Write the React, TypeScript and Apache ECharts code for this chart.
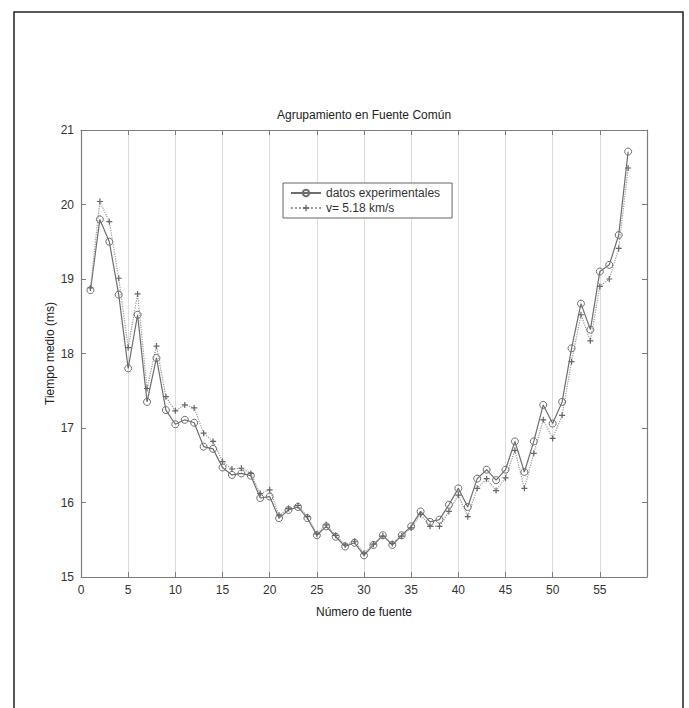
import React, { useEffect, useRef } from "react";
import * as echarts from "echarts";

// Source number (x) and mean travel time in ms for each series
const fuentes = [
  1, 2, 3, 4, 5, 6, 7, 8, 9, 10, 11, 12, 13, 14, 15, 16, 17, 18, 19, 20,
  21, 22, 23, 24, 25, 26, 27, 28, 29, 30, 31, 32, 33, 34, 35, 36, 37, 38, 39, 40,
  41, 42, 43, 44, 45, 46, 47, 48, 49, 50, 51, 52, 53, 54, 55, 56, 57, 58,
];

const datosExperimentales = [
  18.85, 19.8, 19.5, 18.79, 17.8, 18.52, 17.35, 17.94, 17.24, 17.05,
  17.11, 17.07, 16.75, 16.72, 16.47, 16.37, 16.39, 16.36, 16.06, 16.08,
  15.79, 15.9, 15.94, 15.79, 15.56, 15.68, 15.54, 15.41, 15.46, 15.29,
  15.43, 15.56, 15.43, 15.56, 15.68, 15.88, 15.74, 15.77, 15.97, 16.19,
  15.94, 16.32, 16.44, 16.3, 16.44, 16.82, 16.41, 16.82, 17.31, 17.06,
  17.35, 18.07, 18.67, 18.32, 19.1, 19.19, 19.59, 20.71,
];

const modeloVelocidad = [
  18.88, 20.04, 19.77, 19.01, 18.08, 18.8, 17.53, 18.1, 17.42, 17.23,
  17.31, 17.27, 16.93, 16.82, 16.55, 16.45, 16.46, 16.39, 16.12, 16.17,
  15.83, 15.92, 15.96, 15.81, 15.58, 15.7, 15.56, 15.43, 15.48, 15.32,
  15.44, 15.55, 15.45, 15.55, 15.66, 15.84, 15.68, 15.68, 15.88, 16.1,
  15.81, 16.19, 16.32, 16.16, 16.33, 16.7, 16.19, 16.66, 17.11, 16.86,
  17.17, 17.89, 18.52, 18.17, 18.9, 19.0, 19.41, 20.49,
];

const xTicks = [0, 5, 10, 15, 20, 25, 30, 35, 40, 45, 50, 55];
const yTicks = [15, 16, 17, 18, 19, 20, 21];

const titulo = "Agrupamiento en Fuente Común";
const etiquetaX = "Número de fuente";
const etiquetaY = "Tiempo medio (ms)";
const nombreSerie1 = "datos experimentales";
const nombreSerie2 = "v= 5.18 km/s";

const FONT = '"Liberation Sans", Arial, Helvetica, sans-serif';
const PLUS = "path://M4,0H6V4H10V6H6V10H4V6H0V4H4Z";

export default function App() {
  const ref = useRef<HTMLDivElement>(null);

  useEffect(() => {
    document.body.style.margin = "0";
    if (!ref.current) return;
    const chart = echarts.init(ref.current, null, { renderer: "svg" });

    const left = 81;
    const top = 130;
    const width = 566;
    const height = 447;
    const cx = left + width / 2;

    const axisColor = "#7c7c7c";
    const labelColor = "#333";

    const baseX = {
      type: "value" as const,
      min: xTicks[0],
      max: 60,
      interval: 5,
      axisLine: { show: true, onZero: false, lineStyle: { color: axisColor, width: 1.2 } },
      axisTick: { show: true, inside: true, length: 5, lineStyle: { color: axisColor } },
    };
    const baseY = {
      type: "value" as const,
      min: yTicks[0],
      max: yTicks[yTicks.length - 1],
      interval: 1,
      axisLine: { show: true, onZero: false, lineStyle: { color: axisColor, width: 1.2 } },
      axisTick: { show: true, inside: true, length: 5, lineStyle: { color: axisColor } },
      splitLine: { show: false },
    };

    chart.setOption({
      animation: false,
      backgroundColor: "#fff",
      grid: { left, top, width, height, containLabel: false },
      xAxis: [
        {
          ...baseX,
          position: "bottom",
          axisLabel: {
            fontFamily: FONT,
            fontSize: 12,
            color: labelColor,
            margin: 7,
            formatter: (v: number) => (xTicks.includes(v) ? String(v) : ""),
          },
          splitLine: { show: true, lineStyle: { color: "#dcdcdc", width: 1 } },
        },
        {
          ...baseX,
          position: "top",
          axisLabel: { show: false },
          splitLine: { show: false },
        },
      ],
      yAxis: [
        {
          ...baseY,
          position: "left",
          axisLabel: { fontFamily: FONT, fontSize: 12, color: labelColor, margin: 7 },
        },
        {
          ...baseY,
          position: "right",
          axisLabel: { show: false },
        },
      ],
      legend: {
        left: 283,
        top: 183,
        orient: "vertical",
        itemWidth: 30,
        itemHeight: 8,
        itemGap: 3,
        padding: [4, 12, 4, 7],
        borderColor: "#666",
        borderWidth: 1,
        backgroundColor: "#fff",
        textStyle: { fontFamily: FONT, fontSize: 12, color: labelColor },
        data: [nombreSerie1, nombreSerie2],
      },
      series: [
        {
          name: nombreSerie1,
          type: "line",
          xAxisIndex: 0,
          yAxisIndex: 0,
          data: fuentes.map((f, i) => [f, datosExperimentales[i]]),
          symbol: "circle",
          symbolSize: 7,
          showAllSymbol: true,
          lineStyle: { color: "#6e6e6e", width: 1.2, type: "solid" },
          itemStyle: { color: "transparent", borderColor: "#6e6e6e", borderWidth: 1 },
        },
        {
          name: nombreSerie2,
          type: "line",
          xAxisIndex: 0,
          yAxisIndex: 0,
          data: fuentes.map((f, i) => [f, modeloVelocidad[i]]),
          symbol: PLUS,
          symbolSize: 6,
          showAllSymbol: true,
          lineStyle: { color: "#9a9a9a", width: 1.2, type: "dotted" },
          itemStyle: { color: "#666" },
        },
      ],
      graphic: [
        {
          type: "rect",
          shape: { x: 14, y: 12, width: 669, height: 720 },
          style: { fill: "none", stroke: "#222", lineWidth: 1.5 },
          silent: true,
        },
        {
          type: "text",
          x: cx,
          y: 115,
          style: {
            text: titulo,
            fontFamily: FONT,
            fontSize: 12,
            fill: "#222",
            textAlign: "center",
            textVerticalAlign: "middle",
          },
        },
        {
          type: "text",
          x: cx,
          y: 612,
          style: {
            text: etiquetaX,
            fontFamily: FONT,
            fontSize: 12,
            fill: "#222",
            textAlign: "center",
            textVerticalAlign: "middle",
          },
        },
        {
          type: "text",
          x: 50,
          y: top + height / 2,
          rotation: Math.PI / 2,
          style: {
            text: etiquetaY,
            fontFamily: FONT,
            fontSize: 12,
            fill: "#222",
            textAlign: "center",
            textVerticalAlign: "middle",
          },
        },
      ],
    });

    return () => chart.dispose();
  }, []);

  return (
    <div
      ref={ref}
      style={{ position: "absolute", left: 0, top: 0, width: 689, height: 708, background: "#fff" }}
    />
  );
}
